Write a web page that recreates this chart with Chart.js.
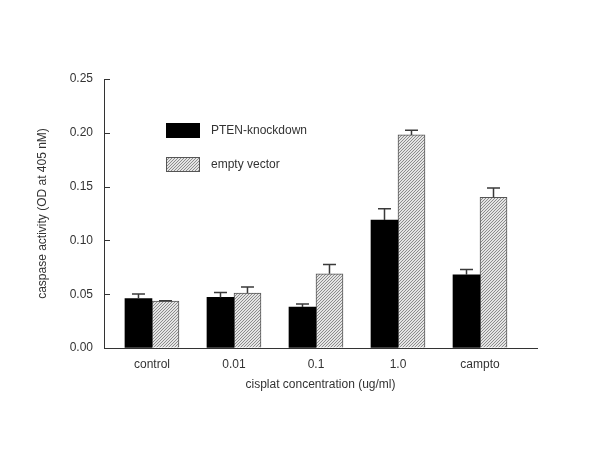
<!DOCTYPE html>
<html>
<head>
<meta charset="utf-8">
<script src="https://cdn.jsdelivr.net/npm/chart.js@4/dist/chart.umd.min.js"></script>
<style>
  body { margin: 0; background: #fff; }
  canvas { display: block; }
</style>
</head>
<body>
<canvas id="caspaseChart" width="600" height="450"></canvas>
<script>
///////////////////////////
// DATA
///////////////////////////

const categories = ["control", "0.01", "0.1", "1.0", "campto"];
const seriesNames = ["PTEN-knockdown", "empty vector"];

const ptenValues = [0.046, 0.047, 0.038, 0.119, 0.068];
const ptenErrors = [0.0043, 0.0046, 0.0028, 0.0105, 0.005];

const vectorValues = [0.0435, 0.051, 0.069, 0.198, 0.140];
const vectorErrors = [0.0005, 0.0058, 0.0087, 0.0043, 0.0088];

const yTicks = [0, 0.05, 0.10, 0.15, 0.20, 0.25];

const xTitle = "cisplat concentration (ug/ml)";
const yTitle = "caspase activity (OD at 405 nM)";

///////////////////////////
// HATCH PATTERN
///////////////////////////

function makeHatch() {
    const c = document.createElement("canvas");
    c.width = 3;
    c.height = 3;
    const cx = c.getContext("2d");
    const img = cx.createImageData(3, 3);
    for (let y = 0; y < 3; y++) {
        for (let x = 0; x < 3; x++) {
            const i = (y * 3 + x) * 4;
            const v = (x + y) % 3 === 2 ? 140 : 228;
            img.data[i] = v;
            img.data[i + 1] = v;
            img.data[i + 2] = v;
            img.data[i + 3] = 255;
        }
    }
    cx.putImageData(img, 0, 0);
    return cx.createPattern(c, "repeat");
}

const hatch = makeHatch();
const textColor = "#333";
const font = { family: "'Liberation Sans', Arial, sans-serif", size: 12 };

///////////////////////////
// PLUGINS
///////////////////////////

// upward error bars with caps
const errorBars = {
    id: "errorBars",
    afterDatasetsDraw(chart) {
        const ctx = chart.ctx;
        const yScale = chart.scales.y;
        ctx.save();
        ctx.strokeStyle = "#3a3a3a";
        ctx.lineWidth = 1.5;
        chart.data.datasets.forEach((ds, di) => {
            const meta = chart.getDatasetMeta(di);
            meta.data.forEach((bar, i) => {
                const top = yScale.getPixelForValue(ds.data[i].y + ds.errors[i]);
                ctx.beginPath();
                ctx.moveTo(bar.x, bar.y);
                ctx.lineTo(bar.x, top);
                ctx.moveTo(bar.x - 6.5, top);
                ctx.lineTo(bar.x + 6.5, top);
                ctx.stroke();
            });
        });
        ctx.restore();
    }
};

// y ticks pointing into the plot
const innerTicks = {
    id: "innerTicks",
    afterDraw(chart) {
        const ctx = chart.ctx;
        const yScale = chart.scales.y;
        const left = chart.chartArea.left;
        ctx.save();
        ctx.strokeStyle = "#333";
        ctx.lineWidth = 1;
        yScale.ticks.forEach(t => {
            const y = Math.round(yScale.getPixelForValue(t.value)) + 0.5;
            ctx.beginPath();
            ctx.moveTo(left, y);
            ctx.lineTo(left + 6, y);
            ctx.stroke();
        });
        ctx.restore();
    }
};

// legend inside the plot
const innerLegend = {
    id: "innerLegend",
    afterDraw(chart) {
        const ctx = chart.ctx;
        ctx.save();
        ctx.font = `${font.size}px ${font.family}`;
        ctx.textBaseline = "middle";
        chart.data.datasets.forEach((ds, di) => {
            const y = 123 + di * 34;
            ctx.fillStyle = ds.backgroundColor;
            ctx.fillRect(166, y, 34, 15);
            if (ds.borderWidth) {
                ctx.strokeStyle = ds.borderColor;
                ctx.lineWidth = 1;
                ctx.strokeRect(166.5, y + 0.5, 33, 14);
            }
            ctx.fillStyle = textColor;
            ctx.fillText(ds.label, 211, y + 8);
        });
        ctx.restore();
    }
};

///////////////////////////
// CHART
///////////////////////////

const ctx = document.getElementById("caspaseChart").getContext("2d");

new Chart(ctx, {
    type: "bar",
    data: {
        datasets: [
            {
                label: seriesNames[0],
                data: ptenValues.map((v, i) => ({ x: i, y: v })),
                errors: ptenErrors,
                backgroundColor: "#000",
                borderWidth: 0,
                barThickness: 27
            },
            {
                label: seriesNames[1],
                data: vectorValues.map((v, i) => ({ x: i, y: v })),
                errors: vectorErrors,
                backgroundColor: hatch,
                borderColor: "#555",
                borderWidth: 1,
                barThickness: 27
            }
        ]
    },
    options: {
        responsive: false,
        animation: false,
        layout: { padding: { left: 0, right: 63, top: 79, bottom: 0 } },
        plugins: {
            legend: { display: false },
            tooltip: { enabled: false }
        },
        scales: {
            x: {
                type: "linear",
                offset: false,
                min: -0.585,
                max: 4.695,
                afterBuildTicks: axis => {
                    axis.ticks = categories.map((c, i) => ({ value: i }));
                },
                afterFit: axis => { axis.height = 102; },
                grid: { display: false, drawTicks: false },
                border: { display: true, color: "#333", width: 1 },
                ticks: {
                    padding: 9,
                    color: textColor,
                    font: font,
                    maxRotation: 0,
                    callback: v => categories[v]
                },
                title: {
                    display: true,
                    text: xTitle,
                    color: textColor,
                    font: font,
                    padding: { top: 0, bottom: 58 }
                }
            },
            y: {
                min: 0,
                max: 0.25,
                afterBuildTicks: axis => {
                    axis.ticks = yTicks.map(v => ({ value: v }));
                },
                afterFit: axis => { axis.width = 104; },
                grid: { drawOnChartArea: false, drawTicks: false },
                border: { display: true, color: "#333", width: 1 },
                ticks: {
                    padding: 11,
                    color: textColor,
                    font: font,
                    callback: v => v.toFixed(2)
                },
                title: {
                    display: true,
                    text: yTitle,
                    color: textColor,
                    font: font,
                    padding: { top: 35, bottom: 0 }
                }
            }
        }
    },
    plugins: [errorBars, innerTicks, innerLegend]
});
</script>
</body>
</html>
